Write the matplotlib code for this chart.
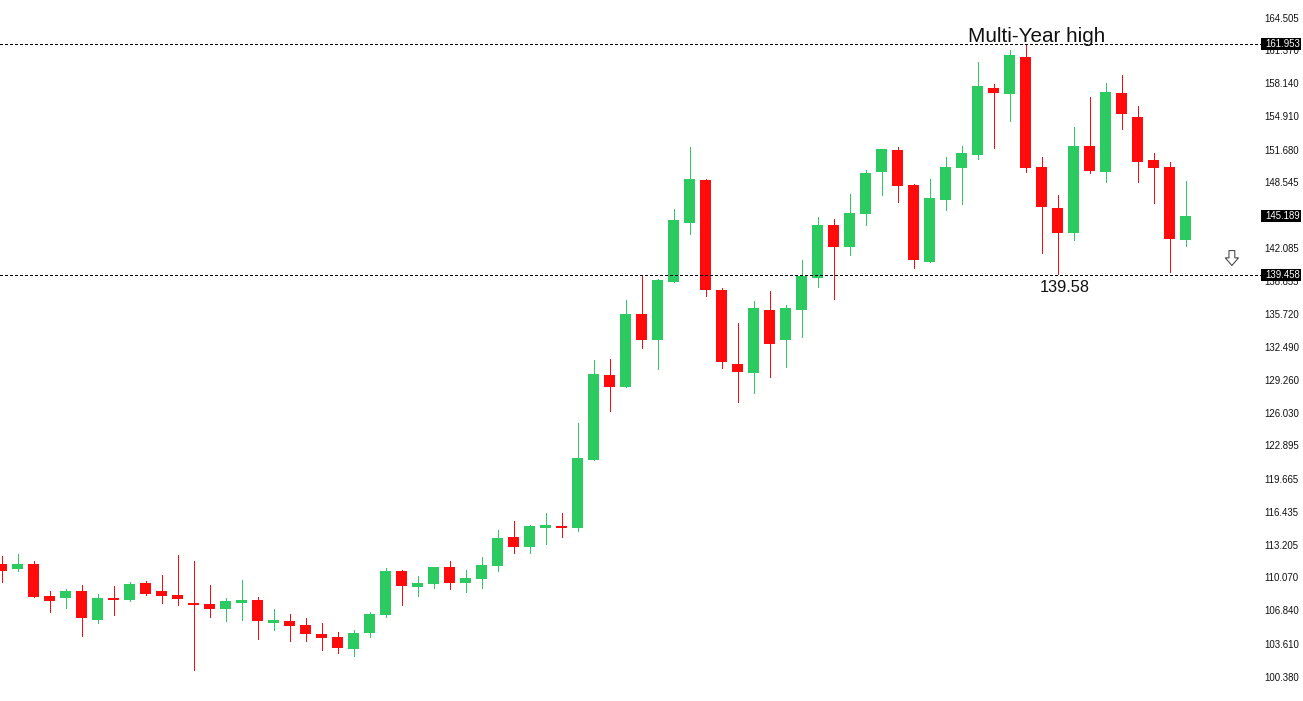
import numpy as np
import matplotlib
matplotlib.use("Agg")
import matplotlib.pyplot as plt
from matplotlib.patches import Rectangle

plt.rcParams['font.family'] = ['Liberation Sans', 'DejaVu Sans']

# Candle values
opens = [111.35, 110.87, 111.35, 108.24, 108.05, 108.73, 105.91, 108.05, 107.85, 109.51,
         108.73, 108.34, 107.56, 107.47, 106.98, 107.56, 107.85, 105.62, 105.81, 105.42,
         104.55, 104.25, 103.09, 104.64, 106.39, 110.67, 109.12, 109.41, 111.06, 109.51,
         109.90, 111.16, 113.98, 113.01, 114.86, 115.05, 114.86, 121.48, 129.75, 128.58,
         135.68, 133.15, 138.79, 144.54, 148.72, 138.02, 130.82, 129.94, 136.07, 133.15,
         136.07, 139.18, 144.34, 142.20, 145.41, 149.50, 151.64, 148.23, 140.74, 146.77,
         149.89, 151.15, 157.67, 157.09, 160.69, 149.98, 146.00, 143.56, 152.03, 149.50,
         157.19, 154.85, 150.67, 149.98, 142.88]
highs = [112.13, 112.33, 111.65, 108.73, 108.92, 109.31, 108.44, 109.22, 109.60, 109.70,
         110.29, 112.23, 111.65, 109.31, 108.05, 109.80, 108.15, 106.98, 106.49, 106.10,
         105.62, 104.74, 104.93, 106.69, 110.97, 110.77, 110.19, 111.06, 111.65, 110.77,
         112.03, 114.66, 115.54, 115.15, 116.32, 116.32, 125.07, 131.20, 131.30, 137.04,
         139.38, 139.09, 145.90, 151.93, 148.82, 138.21, 134.81, 136.95, 137.92, 136.56,
         140.94, 145.12, 144.93, 147.36, 149.69, 151.73, 151.93, 148.33, 148.82, 150.96,
         152.03, 160.20, 158.06, 161.37, 161.95, 150.96, 147.26, 153.88, 156.80, 158.16,
         158.94, 155.92, 151.35, 150.47, 148.62]
lows = [109.60, 110.67, 108.15, 106.69, 107.07, 104.35, 105.62, 106.39, 107.76, 108.34,
        107.56, 107.37, 101.04, 106.20, 105.81, 105.91, 104.06, 104.93, 103.86, 103.86,
        102.99, 102.70, 102.40, 104.25, 106.20, 107.37, 108.24, 109.02, 108.92, 108.63,
        109.02, 110.67, 112.42, 112.42, 113.30, 113.98, 114.57, 121.48, 126.24, 128.58,
        132.37, 130.33, 138.79, 143.47, 137.43, 130.43, 127.12, 128.00, 129.55, 130.52,
        133.44, 138.31, 137.14, 141.42, 144.34, 147.26, 146.58, 140.16, 140.74, 145.80,
        146.39, 150.76, 151.83, 154.46, 149.50, 141.62, 139.58, 142.88, 149.40, 148.52,
        153.68, 148.52, 146.48, 139.77, 142.30]
closes = [110.67, 111.35, 108.15, 107.76, 108.73, 106.10, 108.05, 107.85, 109.41, 108.44,
          108.24, 107.95, 107.37, 106.98, 107.76, 107.85, 105.81, 105.91, 105.32, 104.55,
          104.15, 103.18, 104.64, 106.49, 110.67, 109.22, 109.51, 111.06, 109.51, 109.99,
          111.26, 113.88, 113.01, 115.05, 115.15, 114.86, 121.67, 129.84, 128.58, 135.68,
          133.15, 138.99, 144.83, 148.82, 138.02, 131.01, 130.03, 136.27, 132.76, 136.27,
          139.38, 144.34, 142.20, 145.51, 149.40, 151.73, 148.14, 140.94, 146.97, 149.98,
          151.35, 157.87, 157.19, 160.88, 149.89, 146.09, 143.56, 152.03, 149.60, 157.28,
          155.14, 150.47, 149.89, 142.98, 145.19]

# 145.315 sits under the 145.189 tag in the original, so it is left out
price_ticks = [164.505, 161.370, 158.140, 154.910, 151.680, 148.545, 142.085,
               138.855, 135.720, 132.490, 129.260, 126.030, 122.895, 119.665, 116.435,
               113.205, 110.070, 106.840, 103.610, 100.380]
level_lines = [161.953, 139.458]
price_tags = [161.953, 145.189, 139.458]

GREEN = '#2ccb62'
RED = '#ff0b0b'

opens = np.array(opens)
highs = np.array(highs)
lows = np.array(lows)
closes = np.array(closes)
x = np.arange(len(opens))
colors = [GREEN if c >= o else RED for o, c in zip(opens, closes)]

fig = plt.figure(figsize=(13.03, 7.01), dpi=100, facecolor='white')
ax = fig.add_axes([0, 0, 1261 / 1303, 1])

# Wicks and bodies
ax.vlines(x, lows, highs, colors=colors, linewidth=0.7, antialiased=False, zorder=2)
ax.bar(x, np.abs(closes - opens), bottom=np.minimum(opens, closes), width=11 / 16,
       color=colors, linewidth=0, antialiased=False, zorder=3)

# Horizontal levels
for level in level_lines:
    ax.axhline(level, color='black', linewidth=0.7, linestyle=(0, (3, 3)),
               antialiased=False, zorder=4)

ax.set_xlim(-1.5 / 16, 1259.5 / 16)
ax.set_ylim(98.027, 166.234)

# Price scale on the right
ax.yaxis.tick_right()
ax.set_yticks(price_ticks)
ax.set_yticklabels(['%.3f' % p for p in price_ticks])
ax.tick_params(axis='y', length=0, pad=2.5, labelsize=6.9, labelcolor='#111111')
ax.set_xticks([])
for spine in ax.spines.values():
    spine.set_visible(False)

# Black price tags over the scale
for tag in price_tags:
    ax.add_patch(Rectangle((1.0, tag - 0.58), 40 / 1261, 1.16, transform=ax.get_yaxis_transform(),
                           facecolor='black', edgecolor='none', clip_on=False, zorder=5))
    ax.text(1265 / 1261, tag, '%.3f' % tag, transform=ax.get_yaxis_transform(), color='white',
            fontsize=6.9, va='center', ha='left', clip_on=False, zorder=6)

# Annotations
ax.text(64.7, 162.65, 'Multi-Year high', fontsize=14.9, ha='center', va='center', color='#111111')
ax.text(66.45, 138.3, '139.58', fontsize=11.8, ha='center', va='center', color='#111111')
ax.annotate('', xy=(76.9, 140.4), xytext=(76.9, 141.85),
            arrowprops=dict(arrowstyle='simple,head_length=0.55,head_width=0.95,tail_width=0.42',
                            mutation_scale=10, shrinkA=0, shrinkB=0,
                            facecolor='white', edgecolor='#333333', linewidth=0.7))

plt.savefig('out.png', dpi=100)
